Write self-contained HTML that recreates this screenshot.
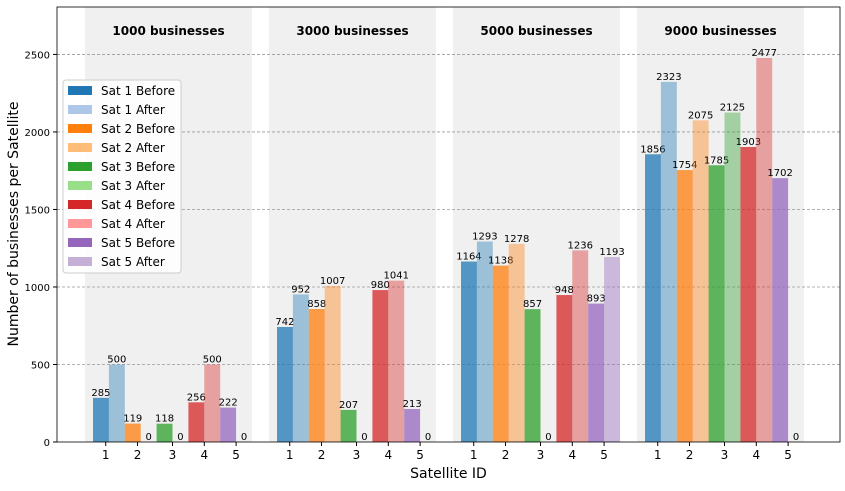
<!DOCTYPE html>
<html><head><meta charset="utf-8"><style>
body{margin:0;background:#fff;font-family:"DejaVu Sans","Liberation Sans",sans-serif}
svg text{font-family:"DejaVu Sans","Liberation Sans",sans-serif}
</style></head><body>
<svg id="c" width="845" height="487"></svg>
<script>
const groups=["1000 businesses","3000 businesses","5000 businesses","9000 businesses"];
const satellites=["1","2","3","4","5"];
const seriesNames=["Sat 1 Before","Sat 1 After","Sat 2 Before","Sat 2 After","Sat 3 Before","Sat 3 After","Sat 4 Before","Sat 4 After","Sat 5 Before","Sat 5 After"];
const g1000=[285,500,119,0,118,0,256,500,222,0];
const g3000=[742,952,858,1007,207,0,980,1041,213,0];
const g5000=[1164,1293,1138,1278,857,0,948,1236,893,1193];
const g9000=[1856,2323,1754,2075,1785,2125,1903,2477,1702,0];
const yTicks=[0,500,1000,1500,2000,2500];
const values=[g1000,g3000,g5000,g9000];
const colors=["#1f77b4","#aec7e8","#ff7f0e","#ffbb78","#2ca02c","#98df8a","#d62728","#ff9896","#9467bd","#c5b0d5"];
const baseColors=["#1f77b4","#ff7f0e","#2ca02c","#d62728","#9467bd"];
const NS="http://www.w3.org/2000/svg";
const svg=document.getElementById('c');
function el(t,a,txt){const e=document.createElementNS(NS,t);for(const k in a)e.setAttribute(k,a[k]);if(txt!==undefined)e.textContent=txt;svg.appendChild(e);return e;}
const L=57,R=840,T=7,B=442,yMax=2806;
const y=v=>B-v/yMax*(B-T);
const bandX=i=>85+i*184, bandW=167, bw=15.9;
const barX=(g,s)=>bandX(g)+8+s*bw;
groups.forEach((g,i)=>{
 const r=el('rect',{x:bandX(i),y:T,width:bandW,height:B-T,fill:'#f0f0f0'});
 
 
});
yTicks.forEach(t=>{
 if(t>0){const ln=el('line',{x1:L,x2:R,y1:y(t),y2:y(t),stroke:'#999','stroke-dasharray':'3,2','stroke-width':0.8});
 }
 const tx=el('text',{x:L-7,y:y(t)+4,'text-anchor':'end','font-size':10},t);
 
 el('line',{x1:L-4,x2:L,y1:y(t),y2:y(t),stroke:'#000'});
});
values.forEach((arr,g)=>{
 arr.forEach((v,s)=>{
  const x=barX(g,s);
  const after=s%2===1;
  const r=el('rect',{x:x,y:y(v),width:bw,height:B-y(v),fill:baseColors[Math.floor(s/2)],'fill-opacity':after?0.4:0.75});
  
  const t=el('text',{x:x+bw/2,y:y(v)-2,'text-anchor':'middle','font-size':10},v);
  
 });
 const gt=el('text',{x:bandX(g)+bandW/2,y:35,'text-anchor':'middle','font-size':12,'font-weight':'bold'},groups[g]);
 
 satellites.forEach((s,k)=>{
  const cx=barX(g,2*k)+bw*(k<2?0.8:1);
  el('line',{x1:cx,x2:cx,y1:B,y2:B+4,stroke:'#000'});
  const tx=el('text',{x:cx,y:B+17,'text-anchor':'middle','font-size':12},s);
  
 });
});
const fr=el('rect',{x:L,y:T,width:R-L,height:B-T,fill:'none',stroke:'#000','stroke-width':0.8});

const xt=el('text',{x:(L+R)/2,y:478,'text-anchor':'middle','font-size':14},'Satellite ID');

const yt=el('text',{x:0,y:0,'text-anchor':'middle','font-size':14,transform:'translate(18,224) rotate(-90)'},'Number of businesses per Satellite');

const lg=el('rect',{x:63,y:80,width:118,height:193,fill:'#fff','fill-opacity':0.85,stroke:'#ccc',rx:3});

seriesNames.forEach((n,i)=>{
 const yy=91+i*19;
 el('rect',{x:68,y:yy-5,width:24,height:9,fill:colors[i]});
 const t=el('text',{x:101,y:yy+4,'font-size':12},n);
 
});
</script>
</body></html>
